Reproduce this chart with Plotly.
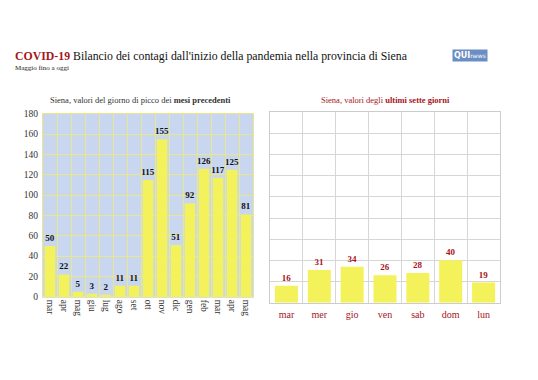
import plotly.graph_objects as go

months = ["mar", "apr", "mag", "giu", "lug", "ago", "set", "ott", "nov", "dic", "gen", "feb", "mar", "apr", "mag"]
peak_values = [50, 22, 5, 3, 2, 11, 11, 115, 155, 51, 92, 126, 117, 125, 81]
days = ["mar", "mer", "gio", "ven", "sab", "dom", "lun"]
week_values = [16, 31, 34, 26, 28, 40, 19]

W, H = 538, 380
OFF = 8  # page body margin
SERIF = "Liberation Serif, DejaVu Serif, serif"
RED = "#a8141c"
BAR = "#f4f25a"

def px(x):
    return (x - OFF) / W

def py(y):
    return 1 - (y - OFF) / H

fig = go.Figure()

xl = list(range(len(months)))
fig.add_trace(go.Bar(
    x=xl, y=peak_values, marker=dict(color=BAR, line=dict(width=0)), width=0.75,
    text=[f"<b>{v}</b>" for v in peak_values], textposition="outside", cliponaxis=False,
    constraintext="none",
    textfont=dict(family=SERIF, size=9, color="#111111"), xaxis="x", yaxis="y",
    showlegend=False, hoverinfo="skip"))

xr = list(range(len(days)))
fig.add_trace(go.Bar(
    x=xr, y=week_values, marker=dict(color=BAR, line=dict(width=0)), width=0.7,
    text=[f"<b>{v}</b>" for v in week_values], textposition="outside", cliponaxis=False,
    constraintext="none",
    textfont=dict(family=SERIF, size=9, color=RED), xaxis="x2", yaxis="y2",
    showlegend=False, hoverinfo="skip"))

ygrid_l = "#e8e88a"
fig.update_layout(
    width=W, height=H, margin=dict(l=0, r=0, t=0, b=0),
    paper_bgcolor="white", plot_bgcolor="white",
    font=dict(family=SERIF, color="#333333"),
    xaxis=dict(domain=[px(43), px(253)], anchor="y", range=[-0.5, len(months) - 0.5],
               tickmode="array", tickvals=xl, ticktext=months, tickangle=90,
               tickfont=dict(family=SERIF, size=9.5, color="#333333"),
               showgrid=False, zeroline=False, showline=True, linecolor=ygrid_l, mirror=True,
               minor=dict(tickmode="array", tickvals=[i - 0.5 for i in range(len(months) + 1)],
                          showgrid=True, gridcolor=ygrid_l, gridwidth=1, ticklen=0),
               ticks="", fixedrange=True),
    yaxis=dict(domain=[py(299.5), py(111.5)], anchor="x", range=[0, 180], dtick=20,
               tickfont=dict(family=SERIF, size=9.5, color="#333333"), ticklabelstandoff=2,
               showgrid=True, gridcolor=ygrid_l, zeroline=False, showline=True,
               linecolor=ygrid_l, mirror=True, ticks="", fixedrange=True),
    xaxis2=dict(domain=[px(270), px(500)], anchor="y2", range=[-0.5, len(days) - 0.5],
                tickmode="array", tickvals=xr, ticktext=days,
                tickfont=dict(family=SERIF, size=10, color=RED), ticklabelstandoff=2,
                showgrid=False, zeroline=False, showline=True, linecolor="#cccccc", mirror=True,
                minor=dict(tickmode="array", tickvals=[i - 0.5 for i in range(len(days) + 1)],
                           showgrid=True, gridcolor="#d6d6d6", gridwidth=1, ticklen=0),
                ticks="", fixedrange=True),
    yaxis2=dict(domain=[py(305.5), py(110)], anchor="x2", range=[0, 180], dtick=20,
                showticklabels=False, showgrid=True, gridcolor="#d6d6d6", zeroline=False,
                showline=True, linecolor="#cccccc", mirror=True, ticks="", fixedrange=True),
)

# light blue background for left plot
fig.add_shape(type="rect", xref="x domain", yref="y domain", x0=0, x1=1, y0=0, y1=1,
              fillcolor="#c8d6ef", line=dict(width=0), layer="below")

annotations = [
    dict(x=px(13), y=py(52), xref="paper", yref="paper", xanchor="left", yanchor="middle",
         text=f"<b><span style='color:{RED}'>COVID-19</span></b> Bilancio dei contagi dall'inizio della pandemia nella provincia di Siena",
         showarrow=False, font=dict(family=SERIF, size=11.8, color="#111111")),
    dict(x=px(13), y=py(64), xref="paper", yref="paper", xanchor="left", yanchor="middle",
         text="Maggio fino a oggi", showarrow=False,
         font=dict(family=SERIF, size=7, color="#222222")),
    dict(x=px(140), y=py(97), xref="paper", yref="paper", xanchor="center", yanchor="middle",
         text="Siena, valori del giorno di picco dei <b>mesi precedenti</b>", showarrow=False,
         font=dict(family=SERIF, size=8.5, color="#333333")),
    dict(x=px(385), y=py(97), xref="paper", yref="paper", xanchor="center", yanchor="middle",
         text="Siena, valori degli <b>ultimi sette giorni</b>", showarrow=False,
         font=dict(family=SERIF, size=8.5, color=RED)),
    dict(x=px(470), y=py(52), xref="paper", yref="paper", xanchor="center", yanchor="middle",
         text="<b>QUI</b><span style='font-size:6px'>news</span>", showarrow=False,
         bgcolor="#6a8dc2", borderpad=1,
         font=dict(family="DejaVu Sans, sans-serif", size=8, color="white")),
]
fig.update_layout(annotations=annotations)

fig.write_html("out.html")
